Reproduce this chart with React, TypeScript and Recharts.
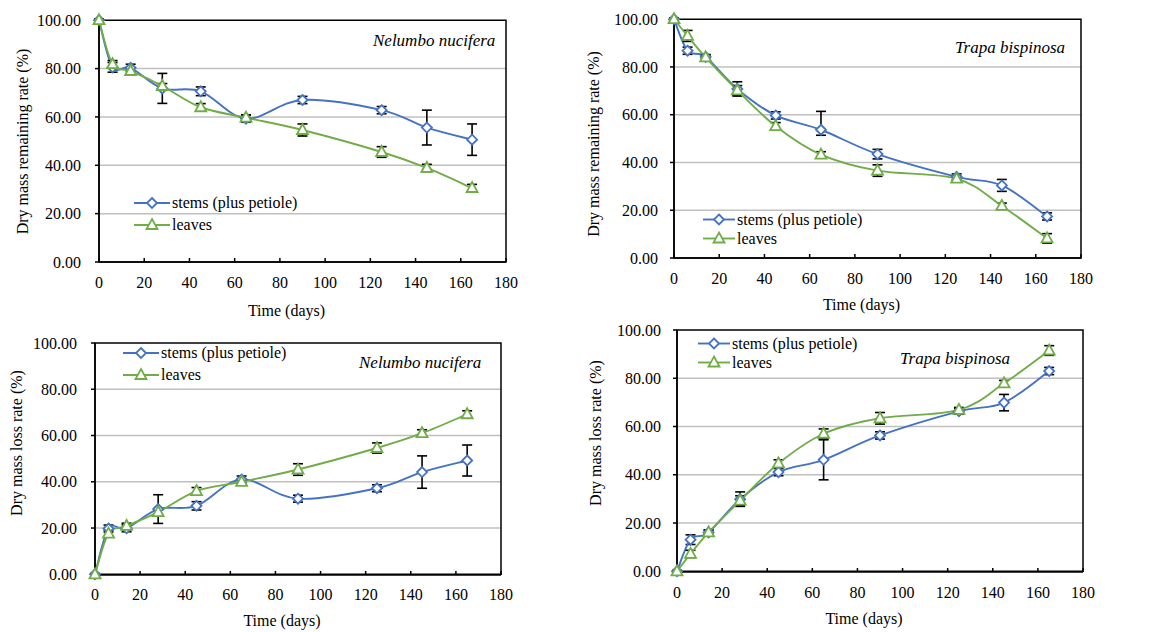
import React from "react";
import { CartesianGrid, ErrorBar, Legend, Line, LineChart, ReferenceArea, XAxis, YAxis } from "recharts";

// sampling days
const days = [0, 6, 14, 28, 45, 65, 90, 125, 145, 165];

// Nelumbo nucifera - remaining rate
const nnRemStems = [100, 80.5, 80.3, 71.8, 70.6, 59.3, 67.0, 62.8, 55.6, 50.6];
const nnRemStemsErr = [0.5, 2, 1.5, 6.2, 1.8, 1.5, 1.5, 1.5, 7.2, 6.5];
const nnRemLeaves = [100, 81.8, 79.0, 72.8, 64.0, 59.7, 54.6, 45.5, 38.9, 30.6];
const nnRemLeavesErr = [0.5, 1.5, 1.2, 1.0, 1.5, 1.2, 2.5, 2.2, 1.5, 1.5];

// Trapa bispinosa - remaining rate
const tbRemStems = [100, 86.8, 84.2, 70.8, 59.7, 53.7, 43.5, 34.0, 30.4, 17.4];
const tbRemStemsErr = [0.5, 1.5, 1, 3, 1.5, [2.3, 7.7], 2, 1.2, 2.5, 1.5];
const tbRemLeaves = [100, 93.0, 84.0, 70.2, 55.2, 43.3, 36.6, 33.2, 21.8, 8.2];
const tbRemLeavesErr = [0.5, 2.3, 1, 2, 1.5, 1.2, 2.4, 1, 1.2, 2];

// Nelumbo nucifera - loss rate
const nnLossStems = [0, 19.8, 19.9, 28.2, 29.6, 41.0, 32.7, 37.2, 44.2, 49.2];
const nnLossStemsErr = [0.3, 1.5, 1.5, 6.2, 1.8, 1.5, 1.5, 1.5, 7.0, 6.7];
const nnLossLeaves = [0, 17.6, 20.9, 26.9, 36.0, 40.0, 45.3, 54.6, 61.0, 69.2];
const nnLossLeavesErr = [0.3, 1.5, 1.2, 1, 1.5, 1.2, 2.5, 2.2, 1.5, 1.5];

// Trapa bispinosa - loss rate
const tbLossStems = [0, 13.1, 16.1, 29.9, 41.1, 46.2, 56.3, 66.3, 69.9, 83.0];
const tbLossStemsErr = [0.3, 2, 1, 3, 1.5, 8.3, 1.5, 1.2, 3.4, 1.5];
const tbLossLeaves = [0, 7.2, 16.1, 29.3, 44.7, 57.0, 63.4, 66.9, 77.9, 91.5];
const tbLossLeavesErr = [0.3, 1.5, 1, 2, 1.5, 2, 2.4, 1, 1.2, 2];

const dayTicks = [0, 20, 40, 60, 80, 100, 120, 140, 160, 180];
const rateTicks = [0, 20, 40, 60, 80, 100];
const legendOrder = ["stems", "leaves"];

const FONT = '"Liberation Serif", "Times New Roman", serif';
const BLUE = "#4472C4";
const GREEN = "#70AD47";
const LINE_W = 1.9;

const makeRows = (stems: number[], stemsErr: any[], leaves: number[], leavesErr: any[]) =>
  days.map((d, i) => ({ day: d, stems: stems[i], stemsErr: stemsErr[i], leaves: leaves[i], leavesErr: leavesErr[i] }));

// Excel-like smoothed line (Catmull-Rom through every point)
function excelSmooth(context: any) {
  let pts: number[][] = [];
  return {
    areaStart() {},
    areaEnd() {},
    lineStart() { pts = []; },
    point(x: number, y: number) { pts.push([+x, +y]); },
    lineEnd() {
      if (!pts.length) return;
      context.moveTo(pts[0][0], pts[0][1]);
      for (let i = 0; i < pts.length - 1; i++) {
        const p0 = pts[i - 1] || pts[i];
        const p1 = pts[i];
        const p2 = pts[i + 1];
        const p3 = pts[i + 2] || p2;
        context.bezierCurveTo(
          p1[0] + (p2[0] - p0[0]) / 6, p1[1] + (p2[1] - p0[1]) / 6,
          p2[0] - (p3[0] - p1[0]) / 6, p2[1] - (p3[1] - p1[1]) / 6,
          p2[0], p2[1]
        );
      }
    },
  };
}

const diamondPath = (cx: number, cy: number) => `M${cx},${cy - 5}L${cx + 5},${cy}L${cx},${cy + 5}L${cx - 5},${cy}Z`;
const trianglePath = (cx: number, cy: number) => `M${cx},${cy - 6}L${cx + 5.5},${cy + 4}L${cx - 5.5},${cy + 4}Z`;

const renderDiamond = (p: any) =>
  p.cx == null ? null : <path key={`d${p.index}`} d={diamondPath(p.cx, p.cy)} fill="#fff" stroke={BLUE} strokeWidth={1.8} />;
const renderTriangle = (p: any) =>
  p.cx == null ? null : <path key={`t${p.index}`} d={trianglePath(p.cx, p.cy)} fill="#fff" stroke={GREEN} strokeWidth={1.8} />;

function makeLegend(rowHeight: number, lineLen: number) {
  return (props: any) => {
    const items = [...(props.payload || [])].sort(
      (a: any, b: any) => legendOrder.indexOf(a.dataKey) - legendOrder.indexOf(b.dataKey)
    );
    return (
      <div style={{ fontFamily: FONT, fontSize: 16, color: "#000", whiteSpace: "nowrap" }}>
        {items.map((entry: any) => {
          const c = lineLen / 2;
          const mid = rowHeight / 2;
          return (
            <div key={entry.value} style={{ display: "flex", alignItems: "center", height: rowHeight }}>
              <svg width={lineLen + 2} height={rowHeight} style={{ display: "block" }}>
                <line x1={0} y1={mid} x2={lineLen} y2={mid} stroke={entry.color} strokeWidth={LINE_W} />
                <path
                  d={entry.type === "diamond" ? diamondPath(c, mid) : trianglePath(c, mid)}
                  fill="#fff"
                  stroke={entry.color}
                  strokeWidth={1.8}
                />
              </svg>
              <span>{entry.value}</span>
            </div>
          );
        })}
      </div>
    );
  };
}

function Panel({ data, yTitle, species, g }: any) {
  const tickStyle = { fontFamily: FONT, fontSize: 16, fill: "#000" };
  return (
    <div style={{ position: "absolute", left: g.left, top: g.top, width: g.width, height: g.height }}>
      <LineChart width={g.width} height={g.height} data={data} margin={{ top: g.top0, right: g.right, left: 0, bottom: 0 }}>
        <CartesianGrid horizontal vertical={false} stroke="#C0C0C0" strokeWidth={1.5} horizontalValues={[20, 40, 60, 80]} />
        <XAxis
          dataKey="day"
          type="number"
          domain={[0, 180]}
          ticks={dayTicks}
          interval={0}
          height={g.xAxisHeight}
          tick={tickStyle}
          tickSize={-4}
          tickMargin={g.xTickMargin}
          axisLine={{ stroke: "#000", strokeWidth: 1.5 }}
          tickLine={{ stroke: "#000", strokeWidth: 1.5 }}
          label={{ value: "Time (days)", position: "insideBottom", offset: g.xTitleOffset, dx: -16, style: { fontFamily: FONT, fontSize: 16, fill: "#000" } }}
        />
        <YAxis
          type="number"
          domain={[0, 100]}
          ticks={rateTicks}
          interval={0}
          width={g.yAxisWidth}
          tick={tickStyle}
          tickSize={4}
          tickMargin={g.yTickMargin}
          tickFormatter={(v: number) => v.toFixed(2)}
          axisLine={{ stroke: "#000", strokeWidth: 1.5 }}
          tickLine={{ stroke: "#000", strokeWidth: 1.5 }}
          label={{
            value: yTitle,
            angle: -90,
            position: "insideLeft",
            offset: g.yTitleX,
            dy: g.yTitleDy,
            style: { fontFamily: FONT, fontSize: 16, fill: "#000", textAnchor: "middle" },
          }}
        />
        <ReferenceArea x1={0} x2={180} y1={0} y2={100} fill="none" stroke="#000" strokeWidth={1.5} />
        <Legend
          layout="vertical"
          align="center"
          verticalAlign="middle"
          wrapperStyle={{ left: g.legendLeft, top: g.legendTop, width: "auto", height: "auto" }}
          content={makeLegend(g.legendRow, g.legendLine)}
        />
        <Line
          name="stems (plus petiole)"
          dataKey="stems"
          type={excelSmooth as any}
          stroke={BLUE}
          strokeWidth={LINE_W}
          legendType="diamond"
          dot={renderDiamond}
          activeDot={false}
          isAnimationActive={false}
        >
          <ErrorBar dataKey="stemsErr" direction="y" width={5} stroke="#000" strokeWidth={1.6} isAnimationActive={false} />
        </Line>
        <Line
          name="leaves"
          dataKey="leaves"
          type={excelSmooth as any}
          stroke={GREEN}
          strokeWidth={LINE_W}
          legendType="triangle"
          dot={renderTriangle}
          activeDot={false}
          isAnimationActive={false}
        >
          <ErrorBar dataKey="leavesErr" direction="y" width={5} stroke="#000" strokeWidth={1.6} isAnimationActive={false} />
        </Line>
      </LineChart>
      <div
        style={{
          position: "absolute",
          left: g.speciesX,
          top: g.speciesY - 11,
          lineHeight: "22px",
          fontFamily: FONT,
          fontSize: 17,
          fontStyle: "italic",
          whiteSpace: "nowrap",
        }}
      >
        {species}
      </div>
    </div>
  );
}

export default function App() {
  return (
    <div style={{ position: "absolute", left: 0, top: 0, width: 1151, height: 632, background: "#fff" }}>
      <Panel
        data={makeRows(nnRemStems, nnRemStemsErr, nnRemLeaves, nnRemLeavesErr)}
        yTitle="Dry mass remaining rate (%)"
        species="Nelumbo nucifera"
        g={{
          left: 0, top: 0, width: 575, height: 320, top0: 19, right: 69,
          xAxisHeight: 58, yAxisWidth: 99, xTickMargin: 19, yTickMargin: 14,
          xTitleOffset: 4, yTitleX: 22, yTitleDy: 1,
          legendLeft: 134, legendTop: 192, legendRow: 22, legendLine: 36,
          speciesX: 373, speciesY: 41,
        }}
      />
      <Panel
        data={makeRows(tbRemStems, tbRemStemsErr, tbRemLeaves, tbRemLeavesErr)}
        yTitle="Dry mass remaining rate (%)"
        species="Trapa bispinosa"
        g={{
          left: 575, top: 0, width: 576, height: 320, top0: 18, right: 70,
          xAxisHeight: 62, yAxisWidth: 99, xTickMargin: 19, yTickMargin: 12,
          xTitleOffset: 10, yTitleX: 18, yTitleDy: 6,
          legendLeft: 128, legendTop: 210, legendRow: 19, legendLine: 32,
          speciesX: 380, speciesY: 48,
        }}
      />
      <Panel
        data={makeRows(nnLossStems, nnLossStemsErr, nnLossLeaves, nnLossLeavesErr)}
        yTitle="Dry mass loss rate (%)"
        species="Nelumbo nucifera"
        g={{
          left: 0, top: 320, width: 575, height: 312, top0: 23, right: 74,
          xAxisHeight: 57, yAxisWidth: 95, xTickMargin: 18, yTickMargin: 14,
          xTitleOffset: 6, yTitleX: 16, yTitleDy: -16,
          legendLeft: 123, legendTop: 22, legendRow: 22, legendLine: 36,
          speciesX: 359, speciesY: 43,
        }}
      />
      <Panel
        data={makeRows(tbLossStems, tbLossStemsErr, tbLossLeaves, tbLossLeavesErr)}
        yTitle="Dry mass loss rate (%)"
        species="Trapa bispinosa"
        g={{
          left: 575, top: 320, width: 576, height: 312, top0: 10, right: 68,
          xAxisHeight: 60, yAxisWidth: 102, xTickMargin: 19, yTickMargin: 12,
          xTitleOffset: 8, yTitleX: 20, yTitleDy: -18,
          legendLeft: 123, legendTop: 14, legendRow: 19, legendLine: 32,
          speciesX: 325, speciesY: 39,
        }}
      />
    </div>
  );
}
